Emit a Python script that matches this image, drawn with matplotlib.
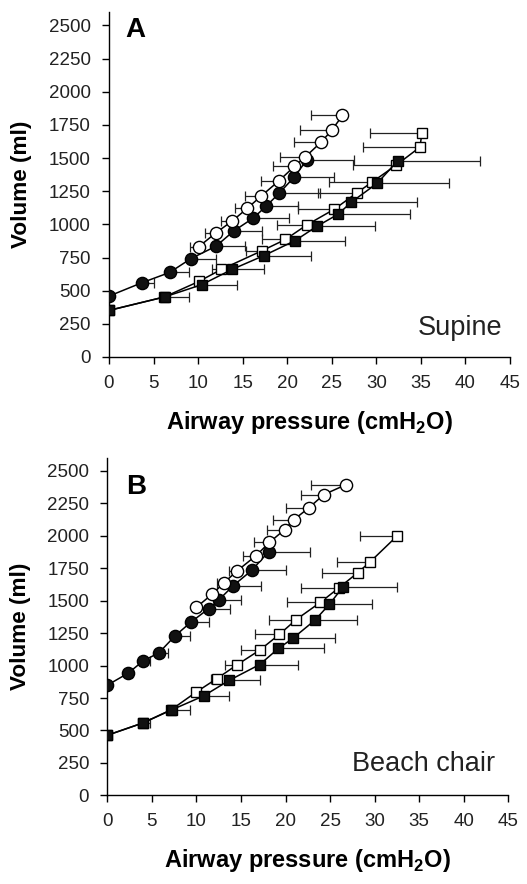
import numpy as np
import matplotlib
matplotlib.use("Agg")
import matplotlib.pyplot as plt

plt.rcParams['font.family'] = ['Liberation Sans', 'DejaVu Sans']
plt.rcParams['mathtext.fontset'] = 'custom'
plt.rcParams['mathtext.rm'] = 'Liberation Sans:bold'
plt.rcParams['mathtext.bf'] = 'Liberation Sans:bold'

# ---- Panel A : Supine ----
a_fc_x = [0, 3.7, 6.8, 9.2, 12.0, 14.0, 16.2, 17.6, 19.1, 20.8, 22.2]
a_fc_v = [459, 560, 637, 742, 835, 950, 1048, 1135, 1235, 1358, 1486]
a_fc_e = [0, 1.4, 2.2, 2.8, 3.3, 3.2, 4.0, 3.6, 4.6, 4.5, 5.3]

a_oc_x = [10.1, 12.0, 13.8, 15.5, 17.1, 19.1, 20.8, 22.0, 23.8, 25.0, 26.2]
a_oc_v = [833, 936, 1024, 1120, 1215, 1330, 1437, 1507, 1620, 1710, 1821]
a_oc_e = [1.0, 1.2, 1.2, 1.4, 1.8, 2.0, 2.4, 2.8, 3.0, 3.6, 3.5]

a_os_x = [0, 6.2, 10.1, 12.6, 17.2, 19.8, 22.2, 25.3, 27.8, 29.5, 32.2, 34.9, 35.1]
a_os_v = [351, 452, 570, 660, 802, 886, 996, 1115, 1237, 1318, 1445, 1583, 1686]
a_os_e = [0, 0, 0.4, 1.0, 1.8, 2.6, 3.3, 4.1, 4.4, 4.8, 4.8, 6.4, 5.8]

a_fs_x = [0, 6.3, 10.4, 13.8, 17.4, 20.9, 23.3, 25.7, 27.2, 30.1, 32.4]
a_fs_v = [351, 454, 545, 660, 765, 878, 984, 1076, 1168, 1310, 1480]
a_fs_e = [0, 2.7, 4.0, 3.6, 5.3, 5.6, 6.6, 8.1, 7.4, 8.1, 9.2]

# ---- Panel B : Beach chair ----
b_fc_x = [0, 2.35, 4.0, 5.8, 7.6, 9.4, 11.4, 12.5, 14.1, 16.2, 18.1]
b_fc_v = [849, 942, 1035, 1099, 1229, 1336, 1440, 1505, 1614, 1734, 1877]
b_fc_e = [0, 0.45, 0.75, 1.05, 1.7, 2.05, 2.4, 2.5, 3.15, 3.8, 4.6]

b_oc_x = [10.0, 11.8, 13.1, 14.6, 16.7, 18.2, 19.9, 20.9, 22.6, 24.3, 26.8]
b_oc_v = [1450, 1552, 1639, 1732, 1848, 1950, 2048, 2123, 2215, 2318, 2395]
b_oc_e = [0.3, 0.4, 0.8, 1.0, 1.5, 1.7, 2.0, 2.3, 2.6, 2.6, 3.9]

b_os_x = [0, 4.0, 7.2, 10.0, 12.3, 14.6, 17.1, 19.3, 21.2, 23.9, 26.0, 28.1, 29.5, 32.5]
b_os_v = [463, 558, 661, 797, 900, 1008, 1119, 1240, 1355, 1487, 1600, 1716, 1800, 1998]
b_os_e = [0, 0, 0, 0.2, 0.7, 1.4, 2.1, 2.7, 3.0, 3.7, 4.3, 4.0, 3.7, 4.2]

b_fs_x = [0, 4.0, 7.3, 10.8, 13.7, 17.1, 19.2, 20.8, 23.3, 24.9, 26.4]
b_fs_v = [463, 558, 661, 766, 887, 1008, 1132, 1209, 1350, 1471, 1602]
b_fs_e = [0, 0.8, 2.0, 2.8, 3.4, 4.3, 5.1, 4.8, 4.7, 4.8, 6.1]

xticks = [0, 5, 10, 15, 20, 25, 30, 35, 40, 45]
yticks = [0, 250, 500, 750, 1000, 1250, 1500, 1750, 2000, 2250, 2500]


def serie(ax, x, v, e, marker, face, ms, kant, z):
    e = np.array(e)
    if kant == 'kanan':
        xerr = [np.zeros_like(e), e]
    else:
        xerr = [e, np.zeros_like(e)]
    ax.errorbar(x, v, xerr=xerr, fmt='none', ecolor='#222222', elinewidth=0.9,
                capsize=3.3, capthick=0.9, zorder=z)
    ax.plot(x, v, '-', color='black', lw=1.1, marker=marker, ms=ms,
            mfc=face, mec='black', mew=1.0, zorder=z + 0.5)


def panel(ax, huruf, posisi, fc, oc, os_, fs, hx, hy, px, py):
    serie(ax, *os_, 's', 'white', 7.6, 'kiri', 2)
    serie(ax, *fs, 's', '#111111', 7.6, 'kanan', 3)
    serie(ax, *fc, 'o', '#111111', 8.8, 'kanan', 4)
    serie(ax, *oc, 'o', 'white', 8.8, 'kiri', 5)

    ax.set_xlim(0, 45)
    ax.set_ylim(0, 2600)
    ax.set_xticks(xticks)
    ax.set_yticks(yticks)
    ax.spines['top'].set_visible(False)
    ax.spines['right'].set_visible(False)
    ax.spines['left'].set_linewidth(1.0)
    ax.spines['bottom'].set_linewidth(1.0)
    ax.tick_params(direction='out', length=5, width=1.0, labelsize=13.5,
                   labelcolor='#222222', pad=8)
    ax.set_ylabel('Volume (ml)', fontsize=16.2, fontweight='bold', labelpad=12)
    ax.set_xlabel(r'Airway pressure (cmH$_2$O)', fontsize=17, fontweight='bold', labelpad=12)
    ax.text(hx, hy, huruf, transform=ax.transAxes, fontsize=20, fontweight='bold',
            ha='center', va='center')
    ax.text(px, py, posisi, transform=ax.transAxes, fontsize=19.5,
            ha='center', va='center', color='#222222')


fig = plt.figure(figsize=(5.27, 8.84), dpi=100)
axA = fig.add_axes([0.2068, 0.5962, 0.761, 0.390])
axB = fig.add_axes([0.2036, 0.1003, 0.761, 0.3816])

panel(axA, 'A', 'Supine',
      (a_fc_x, a_fc_v, a_fc_e), (a_oc_x, a_oc_v, a_oc_e),
      (a_os_x, a_os_v, a_os_e), (a_fs_x, a_fs_v, a_fs_e),
      0.065, 0.948, 0.875, 0.084)
panel(axB, 'B', 'Beach chair',
      (b_fc_x, b_fc_v, b_fc_e), (b_oc_x, b_oc_v, b_oc_e),
      (b_os_x, b_os_v, b_os_e), (b_fs_x, b_fs_v, b_fs_e),
      0.072, 0.914, 0.788, 0.094)

fig.savefig('out.png', dpi=100)
